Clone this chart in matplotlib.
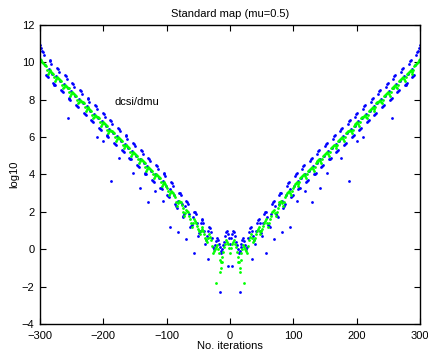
import numpy as np
import matplotlib
matplotlib.use("Agg")
import matplotlib.pyplot as plt

# iterations on the positive side (the map is symmetric in n)
n_pos = [0, 3, 6, 9, 12, 15, 18, 21, 24, 27, 30, 33, 36, 39, 42, 45, 48, 51, 54, 57,
         60, 63, 66, 69, 72, 75, 78, 81, 84, 87, 90, 93, 96, 99, 102, 105, 108, 111, 114, 117,
         120, 123, 126, 129, 132, 135, 138, 141, 144, 147, 150, 153, 156, 159, 162, 165, 168, 171, 174, 177,
         180, 183, 186, 189, 192, 195, 198, 201, 204, 207, 210, 213, 216, 219, 222, 225, 228, 231, 234, 237,
         240, 243, 246, 249, 252, 255, 258, 261, 264, 267, 270, 273, 276, 279, 282, 285, 288, 291, 294, 297, 300]

blue_pos = [0.3, 0.8, 0.9, 0.4, 0.0, -0.1, 0.3, 0.6, 0.2, 0.1, 0.9, 1.2, 0.7, 0.3, 1.4, 1.6, 1.0, 0.7, 1.9, 2.0,
            1.3, 1.2, 2.4, 2.6, 1.9, 1.7, 2.9, 3.0, 2.2, 2.4, 3.4, 3.6, 2.8, 2.9, 3.9, 4.1, 3.2, 3.3, 4.3, 4.5,
            3.6, 3.7, 4.7, 4.9, 4.0, 4.1, 5.1, 5.3, 4.4, 4.5, 5.5, 5.7, 4.8, 4.9, 5.9, 6.1, 5.2, 5.3, 6.3, 6.5,
            5.6, 5.7, 6.7, 6.9, 6.0, 6.1, 7.1, 7.3, 6.4, 6.5, 7.5, 7.7, 6.8, 6.9, 7.9, 8.1, 7.2, 7.3, 8.3, 8.5,
            7.6, 7.7, 8.7, 8.9, 8.0, 8.1, 9.1, 9.3, 8.4, 8.5, 9.5, 9.7, 8.8, 8.9, 9.9, 10.1, 9.2, 9.3, 10.4, 10.6, 10.9]

green_pos = [-0.2, 0.3, 0.5, 0.1, -0.4, -1.0, -0.2, 0.2, 0.0, -0.2, 0.5, 0.8, 0.4, 0.6, 1.0, 1.2, 0.8, 1.1, 1.4, 1.6,
             1.2, 1.6, 2.0, 2.1, 1.8, 2.2, 2.5, 2.6, 2.3, 2.8, 3.0, 3.1, 2.9, 3.3, 3.5, 3.6, 3.4, 3.8, 3.9, 4.0,
             3.8, 4.2, 4.3, 4.4, 4.2, 4.6, 4.7, 4.8, 4.6, 5.0, 5.1, 5.2, 5.0, 5.4, 5.5, 5.6, 5.4, 5.8, 5.9, 6.0,
             5.8, 6.2, 6.3, 6.4, 6.2, 6.6, 6.7, 6.8, 6.6, 7.0, 7.1, 7.2, 7.0, 7.4, 7.5, 7.6, 7.4, 7.8, 7.9, 8.0,
             7.8, 8.2, 8.3, 8.4, 8.2, 8.6, 8.7, 8.8, 8.6, 9.0, 9.1, 9.2, 9.0, 9.4, 9.5, 9.6, 9.4, 9.8, 9.9, 10.0, 10.2]

# in-between iterations (1.5, 4.5, ... 298.5)
n_mid = [1.5 + 3 * k for k in range(100)]

blue_mid = [0.6, 0.95, 0.7, 0.25, -0.2, 0.1, 0.5, 0.45, 0.0, 0.6,
            1.15, 1.0, 0.5, 1.0, 1.55, 1.4, 0.85, 1.4, 2.0, 1.7, 1.25, 1.9,
            2.55, 2.3, 1.8, 2.4, 3.0, 2.6, 2.3, 2.9, 3.55, 3.2, 2.85, 3.4,
            4.05, 3.65, 3.25, 3.8, 4.45, 4.05, 3.65, 4.2, 4.85, 4.45, 4.05, 4.6,
            5.25, 4.85, 4.45, 5.0, 5.65, 5.25, 4.85, 5.4, 6.05, 5.65, 5.25, 5.8,
            6.45, 6.05, 5.65, 6.2, 6.85, 6.45, 6.05, 6.6, 7.25, 6.85, 6.45, 7.0,
            7.65, 7.25, 6.85, 7.4, 8.05, 7.65, 7.25, 7.8, 8.45, 8.05, 7.65, 8.2,
            8.85, 8.45, 8.05, 8.6, 9.25, 8.85, 8.45, 9.0, 9.65, 9.25, 8.85, 9.4,
            10.05, 9.65, 9.25, 9.85, 10.55, 10.75]

green_mid = [0.05, 0.4, 0.3, -0.15, -0.7, -0.6, 0.0, 0.1, -0.1, 0.15,
             0.65, 0.6, 0.5, 0.8, 1.1, 1.0, 0.95, 1.25, 1.5, 1.4, 1.4, 1.8,
             2.05, 1.95, 2.0, 2.35, 2.55, 2.45, 2.55, 2.9, 3.05, 3.0, 3.1, 3.4,
             3.55, 3.5, 3.6, 3.85, 3.95, 3.9, 4.0, 4.25, 4.35, 4.3, 4.4, 4.65,
             4.75, 4.7, 4.8, 5.05, 5.15, 5.1, 5.2, 5.45, 5.55, 5.5, 5.6, 5.85,
             5.95, 5.9, 6.0, 6.25, 6.35, 6.3, 6.4, 6.65, 6.75, 6.7, 6.8, 7.05,
             7.15, 7.1, 7.2, 7.45, 7.55, 7.5, 7.6, 7.85, 7.95, 7.9, 8.0, 8.25,
             8.35, 8.3, 8.4, 8.65, 8.75, 8.7, 8.8, 9.05, 9.15, 9.1, 9.2, 9.45,
             9.55, 9.5, 9.6, 9.85, 9.95, 10.1]

# scattered points off the main band
blue_out_n = [3, 16, 35, 57, 70, 82, 95, 106, 118, 130, 142, 153, 175, 188, 200, 210, 256, 278, 289]
blue_out_v = [-0.9, -2.3, -0.55, -0.2, 0.55, 0.9, 1.2, 2.6, 3.1, 2.5, 3.3, 4.1, 4.9, 3.65, 5.8, 6.0, 7.0, 8.8, 9.3]
green_out_n = [13, 16, 22]
green_out_v = [-0.7, -1.2, -1.8]


def mirror(n, v):
    n = np.asarray(n, dtype=float)
    v = np.asarray(v, dtype=float)
    keep = n > 0
    return np.concatenate([-n[keep][::-1], n]), np.concatenate([v[keep][::-1], v])


plt.rcParams['font.family'] = ['Liberation Sans', 'DejaVu Sans']
plt.rcParams['font.size'] = 8

fig = plt.figure(figsize=(4.28, 3.51), dpi=100)
ax = fig.add_axes([0.0935, 0.077, 0.888, 0.852])

series = [(n_pos, blue_pos, 'blue'), (n_mid, blue_mid, 'blue'), (blue_out_n, blue_out_v, 'blue'),
          (n_pos, green_pos, 'lime'), (n_mid, green_mid, 'lime'), (green_out_n, green_out_v, 'lime')]
for n, v, c in series:
    x, y = mirror(n, v)
    ax.plot(x, y, 'o', color=c, markersize=2.0, markeredgewidth=0)

ax.set_xlim(-300, 300)
ax.set_ylim(-4, 12)
ax.set_xticks(range(-300, 301, 100))
ax.set_yticks(range(-4, 13, 2))
ax.tick_params(direction='in', top=True, right=True, length=4, width=0.8, labelsize=8)
ax.tick_params(axis='x', pad=5)
ax.tick_params(axis='y', pad=4)
for s in ax.spines.values():
    s.set_linewidth(1.0)

ax.set_title('Standard map (mu=0.5)', fontsize=8, pad=6)
ax.set_xlabel('No. iterations', fontsize=8, labelpad=0)
ax.set_ylabel('log10', fontsize=8, labelpad=2)
ax.text(-182, 7.9, 'dcsi/dmu', fontsize=8, va='center')

fig.savefig('out.png', dpi=100)
